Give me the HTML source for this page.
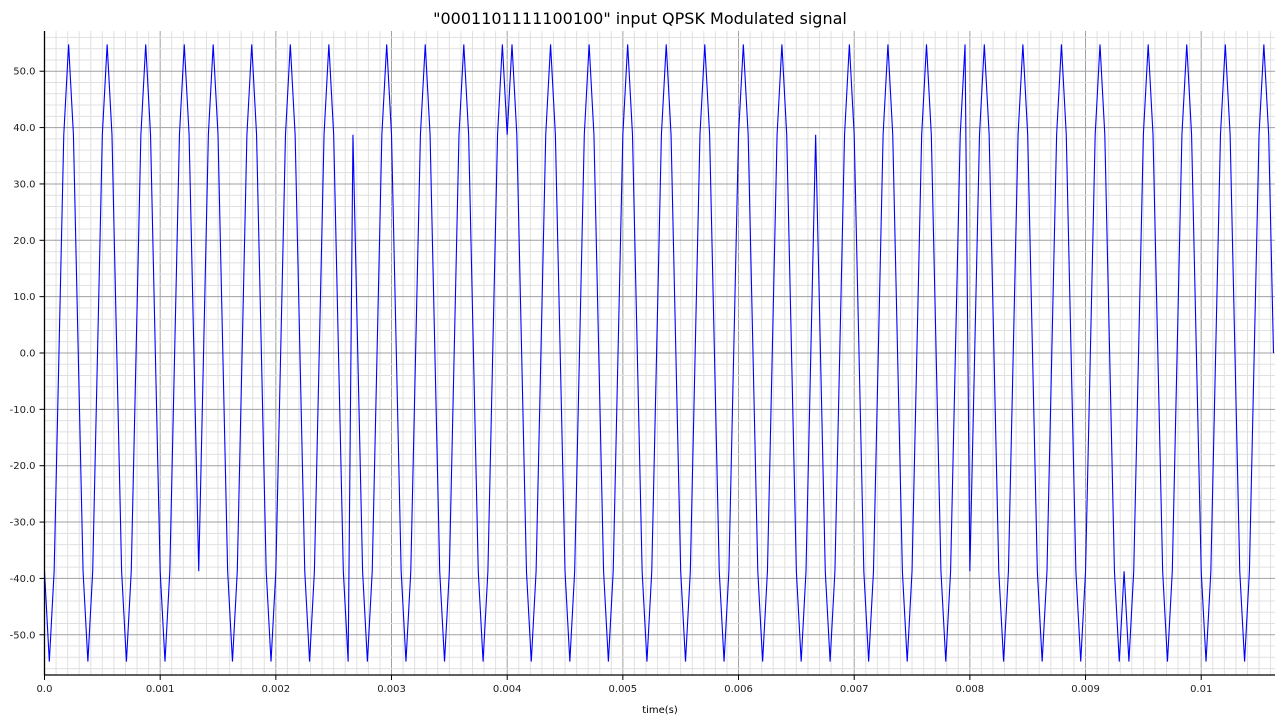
<!DOCTYPE html>
<html><head><meta charset="utf-8"><style>
html,body{margin:0;padding:0;background:#fff;width:1280px;height:720px;overflow:hidden}
svg{display:block;font-family:"DejaVu Sans","Liberation Sans",sans-serif}
</style></head><body>
<svg id="chart" width="1280" height="720" viewBox="0 0 1280 720">
<text x="640" y="24" text-anchor="middle" font-size="16" fill="#000">"0001101111100100" input QPSK Modulated signal</text>
<g id="grid"></g>
<g id="series"></g>
<g id="axes"></g>
<text x="660" y="713" text-anchor="middle" font-size="10" fill="#000">time(s)</text>
</svg>
<script>
// data
const bitString = "0001101111100100";
const symbolPairs = ["00","01","10","11","11","10","01","00"];
const symbolPhasesDeg = [-135, -45, 135, 45, 45, 135, -45, -135];
const amplitude = 54.77;
const carrierHz = 3000;
const sampleRate = 24000;
const samplesPerSymbol = 32;
const yTicks = [-50, -40, -30, -20, -10, 0, 10, 20, 30, 40, 50];
const yTickLabels = ["-50.0","-40.0","-30.0","-20.0","-10.0","0.0","10.0","20.0","30.0","40.0","50.0"];
const xTicks = [0, 0.001, 0.002, 0.003, 0.004, 0.005, 0.006, 0.007, 0.008, 0.009, 0.01];
const xTickLabels = ["0.0","0.001","0.002","0.003","0.004","0.005","0.006","0.007","0.008","0.009","0.01"];

const NS = "http://www.w3.org/2000/svg";
const L = 44.5, R = 1275, T = 31, B = 675;
const totalSamples = symbolPhasesDeg.length * samplesPerSymbol;
const xMax = (totalSamples - 1) / sampleRate;
const yMin = -57.14, yMax = 57.14;
const xs = t => L + (t / xMax) * (1273.5 - L);
const ys = v => B - (v - yMin) / (yMax - yMin) * (B - T);

function mk(tag, attrs, parent) {
  const e = document.createElementNS(NS, tag);
  for (const k in attrs) e.setAttribute(k, attrs[k]);
  parent.appendChild(e);
  return e;
}
const grid = document.getElementById('grid');
const axes = document.getElementById('axes');
const series = document.getElementById('series');

// minor grid
for (let i = 0; i * 0.0001 <= xMax + 1e-9; i++) {
  const x = xs(i * 0.0001);
  const ln = mk('line', {x1: x, x2: x, y1: T, y2: B, stroke: i % 10 === 0 ? '#a0a0a0' : '#e0e0e0', 'stroke-width': 1}, grid);
  
  
}
for (let v = -56; v <= 56; v += 2) {
  const y = ys(v);
  const ln = mk('line', {x1: L, x2: R, y1: y, y2: y, stroke: v % 10 === 0 ? '#a0a0a0' : '#e0e0e0', 'stroke-width': 1}, grid);
  
  
}

// signal
let pts = [];
for (let k = 0; k < symbolPhasesDeg.length; k++) {
  const ph = symbolPhasesDeg[k] * Math.PI / 180;
  for (let j = 0; j < samplesPerSymbol; j++) {
    const n = k * samplesPerSymbol + j;
    const t = n / sampleRate;
    const v = amplitude * Math.sin(2 * Math.PI * carrierHz * t + ph);
    pts.push(xs(t).toFixed(2) + ',' + ys(v).toFixed(2));
  }
}
const pl = mk('polyline', {points: pts.join(' '), fill: 'none', stroke: '#0000ff', 'stroke-width': 1.1, 'stroke-linejoin': 'miter'}, series);



// axes
const ya = mk('line', {x1: L, x2: L, y1: T, y2: B + 0.5, stroke: '#000', 'stroke-width': 1.3}, axes);


const xa = mk('line', {x1: L, x2: R, y1: B, y2: B, stroke: '#000', 'stroke-width': 1.3}, axes);



yTicks.forEach((v, i) => {
  const y = ys(v);
  const tk = mk('line', {x1: L - 5, x2: L, y1: y, y2: y, stroke: '#000', 'stroke-width': 1}, axes);
  
  
  const tx = mk('text', {x: L - 9, y: y + 3.5, 'text-anchor': 'end', 'font-size': 10, fill: '#222'}, axes);
  tx.textContent = yTickLabels[i];
  
  
});
xTicks.forEach((t, i) => {
  const x = xs(t);
  const tk = mk('line', {x1: x, x2: x, y1: B, y2: B + 5, stroke: '#000', 'stroke-width': 1}, axes);
  
  
  const tx = mk('text', {x: x, y: B + 17, 'text-anchor': 'middle', 'font-size': 10, fill: '#222'}, axes);
  tx.textContent = xTickLabels[i];
  
  
});
</script>
</body></html>
